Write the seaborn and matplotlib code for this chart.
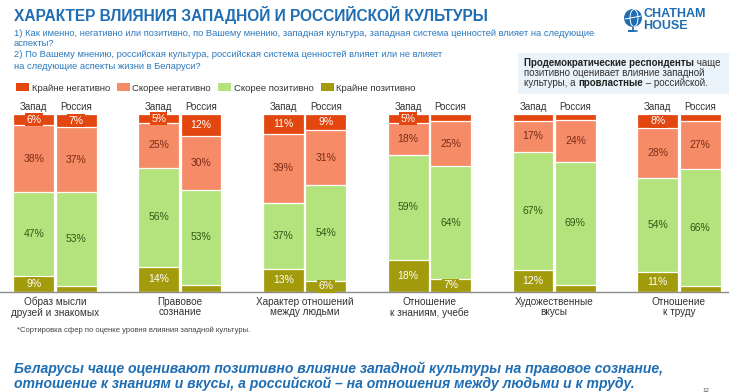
import numpy as np
import pandas as pd
import matplotlib.pyplot as plt
import seaborn as sb
from matplotlib.patches import Patch, Rectangle, Circle, Ellipse

categories = ["Образ мысли\nдрузей и знакомых", "Правовое\nсознание",
              "Характер отношений\nмежду людьми", "Отношение\nк знаниям, учебе",
              "Художественные\nвкусы", "Отношение\nк труду"]
sides = ["Запад", "Россия"]
segments = ["Крайне негативно", "Скорее негативно", "Скорее позитивно", "Крайне позитивно"]

west_very_neg = [6, 5, 11, 5, 4, 8]
west_neg = [38, 25, 39, 18, 17, 28]
west_pos = [47, 56, 37, 59, 67, 54]
west_very_pos = [9, 14, 13, 18, 12, 11]

rus_very_neg = [7, 12, 9, 4, 3, 4]
rus_neg = [37, 30, 31, 25, 24, 27]
rus_pos = [53, 53, 54, 64, 69, 66]
rus_very_pos = [3, 4, 6, 7, 4, 3]

colors = ["#E3460F", "#F68B67", "#B4E27C", "#A29B0C"]
text_colors = ["white", "#7C2B15", "#2F5C12", "white"]
blue = "#1F6DB3"


def build_frame():
    rows = []
    data = {"Запад": [west_very_neg, west_neg, west_pos, west_very_pos],
            "Россия": [rus_very_neg, rus_neg, rus_pos, rus_very_pos]}
    for side in sides:
        vals = data[side]
        for i, cat in enumerate(categories):
            seg = [vals[k][i] for k in range(4)]
            total = sum(seg)
            share = [v / total * 100 for v in seg]
            rows.append({"category": cat, "side": side,
                         "v0": seg[0], "v1": seg[1], "v2": seg[2], "v3": seg[3],
                         "s0": share[0], "s1": share[1], "s2": share[2], "s3": share[3]})
    df = pd.DataFrame(rows)
    # cumulative tops, counted from the bottom segment (Крайне позитивно)
    df["top3"] = df["s3"]
    df["top2"] = df["s3"] + df["s2"]
    df["top1"] = df["top2"] + df["s1"]
    df["top0"] = df["top1"] + df["s0"]
    return df


sb.set_theme(style="white")
plt.rcParams['font.family'] = ['Liberation Sans', 'DejaVu Sans']

df = build_frame()

fig = plt.figure(figsize=(7.32, 3.92), dpi=100)
over = fig.add_axes([0, 0, 1, 1])
over.set_xlim(0, 732)
over.set_ylim(392, 0)
over.axis("off")

ax = fig.add_axes([0, 1 - 291.7 / 392, 728 / 732, 177.4 / 392])

for k in range(4):
    sb.barplot(data=df, x="category", y="top%d" % k, hue="side", order=categories,
               hue_order=sides, palette=[colors[k], colors[k]], saturation=1,
               dodge=True, width=0.68, gap=0.04, errorbar=None, legend=False,
               edgecolor="white", linewidth=0.9, ax=ax)

# bar centres from the first drawn layer
centres = {}
for j, side in enumerate(sides):
    centres[side] = [p.get_x() + p.get_width() / 2 for p in ax.containers[j].patches]

for _, row in df.iterrows():
    i = categories.index(row["category"])
    x = centres[row["side"]][i]
    bottom = 0
    for k in [3, 2, 1, 0]:
        share = row["s%d" % k]
        val = row["v%d" % k]
        if val >= 5:
            ax.text(x, bottom + share / 2, "%d%%" % val, ha="center", va="center",
                    fontsize=7.5, color=text_colors[k],
                    bbox=dict(boxstyle="square,pad=0.12", fc=colors[k], ec="none"))
        bottom += share

for side in sides:
    for x in centres[side]:
        ax.text(x, 104.3, side, ha="center", va="center", fontsize=7, color="#333333",
                clip_on=False)

ax.set_ylim(0, 100)
ax.set_xlim(-0.441, 5.393)
ax.set_xlabel("")
ax.set_ylabel("")
ax.set_yticks([])
for s in ["top", "left", "right"]:
    ax.spines[s].set_visible(False)
ax.spines["bottom"].set_color("#8C8C8C")
ax.spines["bottom"].set_linewidth(1.0)
ax.tick_params(axis="x", length=0, pad=3.5, labelsize=7.2, colors="#333333")
for lab in ax.get_xticklabels():
    lab.set_linespacing(1.1)

# legend
handles = [Patch(facecolor=c, edgecolor="none") for c in colors]
fig.legend(handles, segments, loc="center left", bbox_to_anchor=(16 / 732, 1 - 88 / 392),
           ncol=4, frameon=False, fontsize=6.8, handlelength=1.4, handleheight=0.95,
           handletextpad=0.25, columnspacing=0.75, borderpad=0, borderaxespad=0,
           labelcolor="#333333")

# title and questions
over.text(14, 21, "ХАРАКТЕР ВЛИЯНИЯ ЗАПАДНОЙ И РОССИЙСКОЙ КУЛЬТУРЫ", fontsize=11.2,
          fontweight="bold", color=blue, va="baseline")
q_lines = ["1) Как именно, негативно или позитивно, по Вашему мнению, западная культура, "
           "западная система ценностей влияет на следующие",
           "аспекты?",
           "2) По Вашему мнению, российская культура, российская система ценностей влияет или не влияет",
           "на следующие аспекты жизни в Беларуси?"]
for y, line in zip([33, 43.5, 54, 66], q_lines):
    over.text(14, y, line, fontsize=6.75, color="#2A78BD", va="center")

# note box
over.add_patch(Rectangle((518, 53), 211, 41, facecolor="#EAF3F9", edgecolor="none"))
t = over.text(524, 63, "Продемократические респонденты", fontsize=7, fontweight="bold",
              color="#222222", va="center")
over.annotate(" чаще", xy=(1, 0), xycoords=t, va="bottom", ha="left", fontsize=7,
              color="#333333")
over.text(524, 73, "позитивно оценивает влияние западной", fontsize=7, color="#333333",
          va="center")
t = over.text(524, 83, "культуры, а ", fontsize=7, color="#333333", va="center")
t2 = over.annotate("провластные", xy=(1, 0), xycoords=t, va="bottom", ha="left", fontsize=7,
                   fontweight="bold", color="#222222")
over.annotate(" – российской.", xy=(1, 0), xycoords=t2, va="bottom", ha="left", fontsize=7,
              color="#333333")

# logo
over.add_patch(Circle((633, 18), 9, facecolor=blue, edgecolor="none"))
over.add_patch(Ellipse((634, 18), 8, 17, facecolor="none", edgecolor="white", lw=0.7))
over.plot([625, 641], [19, 16], color="white", lw=0.7)
over.plot([633, 633, 629, 637], [27, 31, 31, 31], color=blue, lw=1.2)
over.text(643, 14, "CHATHAM", fontsize=9, fontweight="bold", color=blue, va="center")
over.text(643, 26, "HOUSE", fontsize=9, fontweight="bold", color=blue, va="center")

# footnote and conclusion
over.text(17, 330, "*Сортировка сфер по оценке уровня влияния западной культуры.",
          fontsize=5.5, color="#444444", va="center")
over.text(14, 369, "Беларусы чаще оценивают позитивно влияние западной культуры на правовое сознание,",
          fontsize=10.1, fontweight="bold", fontstyle="italic", color=blue, va="center")
over.text(14, 383.5, "отношение к знаниям и вкусы, а российской – на отношения между людьми и к труду.",
          fontsize=10.1, fontweight="bold", fontstyle="italic", color=blue, va="center")
over.text(702, 391, "12", fontsize=4.5, color="#555555", va="center")

fig.savefig("out.png", dpi=100)
